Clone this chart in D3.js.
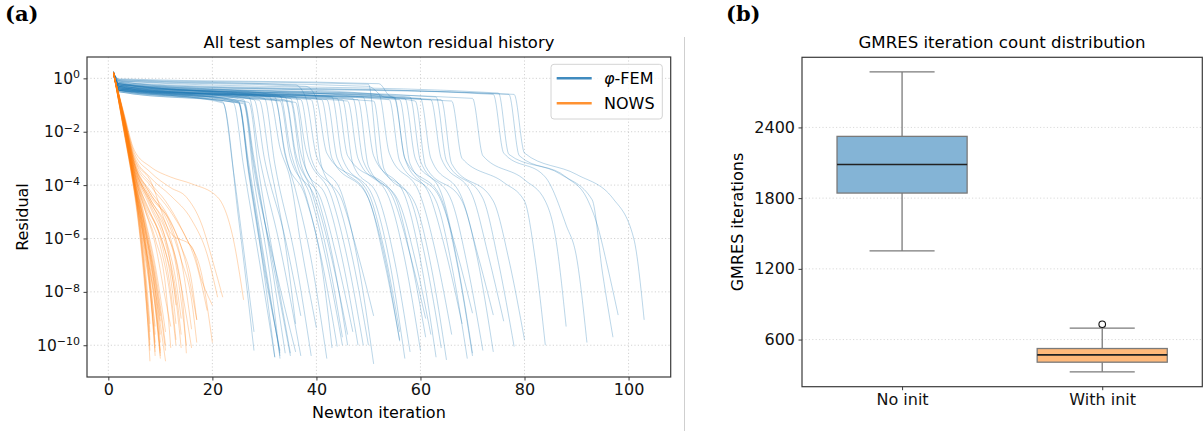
<!DOCTYPE html>
<html><head><meta charset="utf-8">
<script src="https://cdn.jsdelivr.net/npm/d3@7"></script>
<style>body{margin:0;background:#fff} svg{display:block}</style>
</head><body><svg id="c" width="1203" height="431" font-family="DejaVu Sans"></svg>
<script>
// ---------- data : panel (a) ----------
const xTicksA = [0, 20, 40, 60, 80, 100];
const yExpTicksA = [0, -2, -4, -6, -8, -10];
const seriesNames = ["\u03c6-FEM", "NOWS"];
// each row = one test sample: flat pairs [iteration, log10(residual), ...] read at key points
const phiFEM = [
 [1,0.22, 2,-0.45, 10,-0.6, 22,-0.92, 25,-5.2, 28,-10.2],
 [1,0.18, 2,-0.4, 22,-0.88, 24,-3.4, 26,-6.4, 28,-9.5],
 [1,0.25, 2,-0.35, 25,-0.9, 27,-3.5, 29,-6.0, 32,-10.45],
 [1,0.2, 2,-0.3, 25,-0.85, 27,-3.2, 30,-6.8, 33,-10.4],
 [1,0.15, 2,-0.5, 25,-0.92, 27,-3.6, 30,-7.2, 33,-10.2],
 [1,0.2, 2,-0.25, 26,-0.8, 28,-3.0, 31,-6.5, 34,-10.3],
 [1,0.22, 2,-0.4, 26,-0.85, 28,-3.2, 32,-7.3, 35,-10.4],
 [1,0.18, 2,-0.45, 26,-0.9, 28,-3.4, 32,-7.0, 36,-10.25],
 [1,0.2, 2,-0.2, 27,-0.7, 29,-2.9, 33,-6.3, 37,-10.4],
 [1,0.25, 2,-0.3, 28,-0.8, 30,-3.0, 34,-6.0, 37,-8.9],
 [1,0.2, 2,-0.15, 30,-0.75, 32,-3.2, 36,-6.8, 39,-10.4],
 [1,0.15, 2,-0.5, 26,-0.95, 28,-3.8, 31,-7.3, 33,-10.5],
 [1,0.2, 2,-0.35, 27,-0.9, 29,-3.6, 32,-7.0, 35,-10.3],
 [1,0.2, 2,-0.45, 24,-0.9, 26,-3.3, 29,-6.8, 32,-10.45],
 [1,0.24, 2,-0.3, 25,-0.88, 27,-3.4, 30,-7.0, 33,-10.3],
 [1,0.2, 2,-0.25, 29,-0.82, 31,-3.1, 34,-6.2, 36,-9.2],
 [1,0.2, 2,-0.2, 31,-0.7, 33,-2.6, 35,-3.8, 37,-6.2, 40,-9.35],
 [1,0.22, 2,-0.45, 32,-0.8, 34,-2.8, 36,-4.2, 39,-6.8, 42,-10.5],
 [1,0.18, 2,-0.1, 33,-0.65, 35,-2.7, 38,-4.4, 41,-6.8, 44,-10.05],
 [1,0.2, 2,-0.35, 34,-0.8, 36,-3.0, 39,-4.5, 42,-6.9, 45,-10.0],
 [1,0.25, 2,-0.3, 35,-0.75, 37,-2.8, 40,-4.3, 43,-6.6, 46,-10.0],
 [1,0.2, 2,-0.4, 35,-0.85, 37,-3.2, 41,-4.6, 44,-6.8, 47,-9.5],
 [1,0.15, 2,-0.2, 36,-0.7, 38,-2.7, 43,-4.5, 46,-6.8, 49,-10.0],
 [1,0.2, 2,-0.35, 37,-0.8, 39,-3.0, 44,-4.5, 47,-6.8, 50,-10.0],
 [1,0.22, 2,-0.05, 36,-0.25, 38,-0.75, 40,-2.9, 45,-4.4, 48,-6.9, 51,-10.7],
 [1,0.2, 2,-0.4, 39,-0.8, 41,-3.3, 45,-4.6, 48,-6.6, 51,-8.9],
 [1,0.18, 2,-0.25, 34,-0.7, 36,-2.8, 39,-4.2, 42,-6.5, 45,-9.7],
 [1,0.2, 2,-0.5, 33,-0.85, 35,-3.0, 40,-4.6, 43,-6.8, 46,-9.6],
 [1,0.2, 2,-0.45, 36,-0.9, 38,-3.4, 42,-4.5, 45,-6.8, 48,-10.0],
 [1,0.2, 2,-0.2, 32,-0.7, 34,-2.9, 38,-4.5, 41,-7.0, 43,-10.1],
 [1,0.2, 2,-0.35, 42,-0.8, 44,-3.0, 50,-4.5, 53,-6.6, 56,-9.85],
 [1,0.22, 2,-0.1, 38,-0.3, 40,-0.75, 42,-2.8, 50,-4.3, 53,-6.4, 56,-9.5],
 [1,0.2, 2,-0.25, 43,-0.7, 45,-3.0, 51,-4.5, 54,-6.8, 57,-10.5],
 [1,0.18, 2,-0.4, 45,-0.8, 47,-3.2, 52,-4.5, 55,-6.8, 58,-10.25],
 [1,0.2, 2,-0.45, 46,-0.85, 48,-3.0, 54,-4.5, 57,-6.8, 60,-10.2],
 [1,0.25, 2,-0.3, 47,-0.75, 49,-3.1, 55,-4.6, 58,-6.6, 61,-9.0],
 [1,0.2, 2,-0.35, 48,-0.8, 50,-3.3, 56,-4.7, 59,-6.8, 62,-9.6],
 [1,0.15, 2,-0.2, 49,-0.7, 51,-2.9, 57,-4.4, 60,-6.8, 63,-10.45],
 [1,0.2, 2,-0.05, 50,-0.22, 52,-3.2, 58,-4.5, 61,-6.8, 64,-10.1],
 [1,0.22, 2,-0.45, 51,-0.85, 53,-3.4, 59,-4.7, 62,-7.0, 65,-10.55],
 [1,0.2, 2,-0.15, 52,-0.6, 54,-2.8, 60,-4.4, 63,-6.6, 66,-9.6],
 [1,0.2, 2,-0.02, 52,-0.2, 54,-0.65, 55,-0.75, 57,-3.0, 62,-4.5, 65,-6.6, 68,-9.2],
 [1,0.18, 2,-0.4, 54,-0.8, 56,-3.1, 63,-4.6, 66,-7.0, 69,-10.5],
 [1,0.2, 2,-0.25, 55,-0.7, 57,-3.0, 64,-4.5, 67,-6.9, 70,-10.4],
 [1,0.25, 2,-0.35, 56,-0.8, 58,-3.2, 64,-4.6, 67,-6.5, 70,-8.8],
 [1,0.2, 2,-0.3, 60,-0.75, 62,-3.0, 68,-4.5, 71,-6.8, 74,-10.25],
 [1,0.2, 2,-0.08, 50,-0.3, 53,-0.7, 59,-0.85, 61,-3.3, 68,-4.6, 71,-6.6, 74,-8.87],
 [1,0.22, 2,-0.4, 62,-0.8, 64,-3.0, 70,-4.4, 73,-6.6, 76,-9.1],
 [1,0.2, 2,-0.25, 63,-0.7, 65,-3.1, 72,-4.5, 75,-6.9, 78,-10.05],
 [1,0.18, 2,-0.45, 64,-0.8, 66,-3.2, 74,-4.6, 77,-6.8, 80,-9.8],
 [1,0.2, 2,-0.3, 44,-0.75, 46,-2.9, 55,-4.4, 58,-6.6, 61,-9.7],
 [1,0.2, 2,-0.4, 41,-0.8, 43,-3.0, 50,-4.5, 53,-6.8, 56,-9.8],
 [1,0.25, 2,-0.3, 57,-0.75, 59,-3.0, 64,-4.3, 67,-6.8, 70,-10.3],
 [1,0.2, 2,-0.2, 58,-0.7, 60,-3.1, 66,-4.6, 69,-7.0, 72,-10.2],
 [1,0.2, 2,-0.45, 66,-0.85, 68,-3.0, 76,-3.9, 80,-4.6, 82,-6.7, 84,-10.0],
 [1,0.22, 2,-0.35, 70,-0.75, 72,-2.9, 80,-3.8, 84,-4.6, 86,-6.0, 88,-9.3],
 [1,0.2, 2,-0.15, 74,-0.6, 76,-2.8, 84,-3.7, 88,-5.5, 90,-6.7, 92,-9.9],
 [1,0.2, 2,-0.1, 75,-0.55, 77,-2.85, 87,-3.6, 93,-4.55, 95,-7.3, 97,-9.7],
 [1,0.18, 2,-0.2, 77,-0.6, 79,-2.9, 88,-3.7, 92,-4.5, 94,-5.5, 96,-7.1, 98,-8.87],
 [1,0.2, 2,-0.25, 78,-0.6, 80,-2.8, 90,-3.6, 97,-4.5, 101,-6.0, 103,-9.05]
];
const nows = [
 [1,0.25, 3,-2.0, 5,-4.2, 6,-5.6, 7,-7.5, 8,-10.6],
 [1,0.2, 3,-1.8, 5,-4.0, 6,-5.4, 7,-7.2, 8,-9.8],
 [1,0.15, 3,-1.9, 5,-4.1, 7,-6.6, 8,-8.0, 9,-10.4],
 [1,0.22, 3,-1.7, 5,-3.9, 7,-6.3, 8,-7.8, 9,-10.25],
 [1,0.2, 3,-1.8, 5,-4.0, 7,-6.0, 8,-7.4, 9,-9.6],
 [1,0.18, 3,-1.6, 5,-3.8, 7,-5.8, 9,-8.2, 10,-10.3],
 [1,0.24, 3,-1.9, 5,-4.2, 7,-6.2, 9,-8.5, 10,-10.4],
 [1,0.2, 3,-1.7, 5,-3.7, 7,-5.5, 9,-7.8, 10,-9.6],
 [1,0.2, 3,-1.8, 5,-3.9, 7,-5.7, 9,-7.6, 10,-9.1],
 [1,0.16, 3,-1.6, 5,-3.6, 7,-5.3, 9,-7.2, 11,-10.0],
 [1,0.22, 3,-1.7, 5,-3.8, 7,-5.5, 9,-7.4, 11,-10.2],
 [1,0.2, 3,-1.5, 5,-3.5, 7,-5.2, 9,-7.0, 11,-9.5],
 [1,0.25, 3,-2.0, 5,-4.3, 6,-5.8, 7,-7.8, 8,-10.2],
 [1,0.2, 3,-1.9, 5,-4.0, 6,-5.3, 7,-6.9, 8,-9.2],
 [1,0.18, 3,-1.8, 5,-4.0, 7,-6.4, 8,-7.9, 9,-9.9],
 [1,0.2, 3,-1.75, 5,-3.9, 7,-6.0, 8,-7.6, 9,-9.3],
 [1,0.22, 3,-1.85, 5,-4.0, 7,-6.1, 9,-8.6, 10,-10.5],
 [1,0.2, 3,-1.7, 5,-3.8, 7,-5.6, 9,-8.0, 10,-9.9],
 [1,0.15, 3,-1.6, 5,-3.7, 7,-5.4, 9,-7.5, 10,-8.9],
 [1,0.2, 3,-1.9, 5,-4.1, 6,-5.5, 7,-7.3, 8,-9.5],
 [1,0.22, 3,-1.65, 5,-3.7, 7,-5.6, 9,-7.9, 11,-10.6],
 [1,0.2, 3,-1.95, 5,-4.15, 6,-5.7, 7,-7.6, 8,-10.0],
 [1,0.21, 3,-1.8, 5,-3.95, 7,-6.2, 8,-7.7, 9,-10.1],
 [1,0.19, 3,-1.75, 5,-3.85, 7,-5.9, 9,-8.4, 10,-10.2],
 [1,0.2, 3,-1.6, 5,-3.6, 7,-4.9, 9,-6.0, 11,-7.8, 12,-10.1],
 [1,0.2, 3,-1.5, 5,-3.5, 7,-4.8, 10,-6.3, 12,-8.3, 13,-10.0],
 [1,0.18, 3,-1.6, 5,-3.4, 7,-4.6, 10,-5.9, 12,-7.5, 13,-9.2],
 [1,0.22, 3,-1.55, 5,-3.5, 8,-5.0, 11,-6.5, 13,-8.3, 14,-10.1],
 [1,0.2, 3,-1.5, 5,-3.3, 8,-4.7, 11,-6.0, 13,-7.6, 14,-9.0],
 [1,0.2, 3,-1.4, 5,-3.2, 8,-4.6, 11,-5.7, 14,-7.8, 15,-10.3],
 [1,0.15, 3,-1.5, 5,-3.3, 8,-4.5, 12,-6.0, 14,-7.8, 16,-10.1],
 [1,0.2, 3,-1.4, 5,-3.1, 8,-4.3, 12,-5.5, 14,-6.8, 16,-9.4],
 [1,0.22, 3,-1.5, 5,-3.2, 8,-4.4, 12,-5.4, 15,-7.0, 17,-9.05],
 [1,0.2, 3,-1.6, 5,-3.4, 8,-4.6, 10,-5.4, 12,-7.0, 13,-8.5],
 [1,0.2, 3,-1.7, 5,-3.6, 7,-4.9, 9,-6.2, 11,-8.3, 12,-9.3],
 [1,0.18, 3,-1.6, 5,-3.5, 7,-4.7, 10,-6.0, 12,-8.0, 13,-9.8],
 [1,0.2, 3,-1.55, 5,-3.4, 8,-4.8, 11,-6.2, 13,-8.0, 14,-9.6],
 [1,0.22, 3,-1.5, 5,-3.3, 8,-4.5, 11,-5.6, 13,-7.0, 15,-10.0],
 [1,0.2, 3,-1.3, 5,-2.7, 8,-3.3, 12,-3.7, 16,-3.95, 21,-4.45, 24,-6.0, 26,-8.3],
 [1,0.2, 3,-1.35, 5,-2.8, 8,-3.5, 12,-4.1, 15,-4.45, 18,-5.5, 20,-6.8, 22,-8.2],
 [1,0.18, 3,-1.4, 5,-2.9, 8,-3.7, 12,-4.4, 16,-5.3, 19,-6.6, 21,-8.2],
 [1,0.22, 3,-1.4, 5,-3.0, 8,-3.9, 11,-4.6, 14,-5.6, 17,-7.0, 19,-8.7],
 [1,0.2, 3,-1.45, 5,-3.1, 8,-4.0, 12,-5.0, 15,-6.0, 18,-7.4, 20,-9.9],
 [1,0.2, 3,-1.5, 5,-3.2, 8,-4.2, 11,-5.0, 14,-6.3, 16,-7.6, 17,-9.05],
 [1,0.15, 3,-1.5, 5,-3.2, 8,-4.3, 11,-5.2, 14,-6.8, 16,-8.3, 17,-9.9],
 [1,0.2, 3,-1.45, 5,-3.0, 8,-3.8, 12,-5.8, 16,-6.3, 18,-7.6, 20,-8.5]
];
// ---------- data : panel (b) ----------
const boxCategories = ["No init", "With init"];
const whiskerLow  = [1352, 326];
const quartile1   = [1843, 408];
const medians     = [2086, 470];
const quartile3   = [2324, 524];
const whiskerHigh = [2871, 697];
const outliers    = [[], [730]];
const yTicksB = [600, 1200, 1800, 2400];

const svg = d3.select("#c");
const blue = "#1f77b4", orange = "#ff7f0e", spine = "#3a3a3a";
const styleTicks = (g, size) => { g.select(".domain").remove(); g.selectAll("line").attr("stroke", spine);
  g.selectAll("text").style("font-family", "DejaVu Sans").style("font-size", size).attr("fill", "#111"); };

// ---------- panel (a) ----------
const xA = d3.scaleLinear().domain([-4.1, 108.1]).range([87, 670.7]);
const yA = d3.scaleLog().domain([Math.pow(10, 0.8), Math.pow(10, -11.19)]).range([57, 377]);
const gA = svg.append("g");

gA.append("g").selectAll("line").data(xTicksA).join("line")
  .attr("x1", d => xA(d)).attr("x2", d => xA(d)).attr("y1", 57).attr("y2", 377)
  .attr("stroke", "#c8c8c8").attr("stroke-width", 0.8).attr("stroke-dasharray", "1.2,2.2");
gA.append("g").selectAll("line").data(yExpTicksA).join("line")
  .attr("y1", d => yA(Math.pow(10, d))).attr("y2", d => yA(Math.pow(10, d))).attr("x1", 87).attr("x2", 670.7)
  .attr("stroke", "#c8c8c8").attr("stroke-width", 0.8).attr("stroke-dasharray", "1.2,2.2");

const toPts = row => { const p = []; for (let i = 0; i < row.length; i += 2) p.push([row[i], Math.pow(10, row[i + 1])]); return p; };
const lineA = d3.line().x(d => xA(d[0])).y(d => yA(d[1])).curve(d3.curveMonotoneX);

gA.append("g").selectAll("path").data(phiFEM).join("path")
  .attr("d", r => lineA(toPts(r))).attr("fill", "none")
  .attr("stroke", blue).attr("stroke-opacity", 0.3).attr("stroke-width", 1);
gA.append("g").selectAll("path").data(nows).join("path")
  .attr("d", r => lineA(toPts(r))).attr("fill", "none")
  .attr("stroke", orange).attr("stroke-opacity", 0.3).attr("stroke-width", 1);

const axA = gA.append("g").attr("transform", "translate(0,377)")
  .call(d3.axisBottom(xA).tickValues(xTicksA).tickSize(3.5).tickPadding(3.5).tickSizeOuter(0));
styleTicks(axA, "16px");
const ayA = gA.append("g").attr("transform", "translate(87,0)")
  .call(d3.axisLeft(yA).tickValues(yExpTicksA.map(e => Math.pow(10, e))).tickSize(3.5).tickPadding(3.5).tickSizeOuter(0));
styleTicks(ayA, "15.5px");
ayA.selectAll(".tick text").each(function (d) {
  const e = Math.round(Math.log10(d));
  const t = d3.select(this).text(null);
  t.append("tspan").text("10");
  t.append("tspan").attr("dy", "-0.5em").style("font-size", "11px").text(e < 0 ? "\u2212" + (-e) : String(e));
});
gA.append("rect").attr("x", 87).attr("y", 57).attr("width", 670.7 - 87).attr("height", 320)
  .attr("fill", "none").attr("stroke", spine).attr("stroke-width", 1.2);

gA.append("text").attr("x", 378.9).attr("y", 418).attr("text-anchor", "middle").style("font-size", "16px").text("Newton iteration");
gA.append("text").attr("transform", "translate(28,217) rotate(-90)").attr("text-anchor", "middle").style("font-size", "16px").text("Residual");
gA.append("text").attr("x", 378.9).attr("y", 48).attr("text-anchor", "middle").style("font-size", "16.4px").text("All test samples of Newton residual history");

const lg = gA.append("g");
lg.append("rect").attr("x", 551).attr("y", 64.3).attr("width", 111.3).attr("height", 54.7).attr("rx", 3)
  .attr("fill", "#fff").attr("fill-opacity", 0.8).attr("stroke", "#d4d4d4").attr("stroke-width", 1);
[blue, orange].forEach((c, i) => {
  const yy = 78.3 + i * 25;
  lg.append("line").attr("x1", 556.7).attr("x2", 591.7).attr("y1", yy).attr("y2", yy)
    .attr("stroke", c).attr("stroke-opacity", 0.85).attr("stroke-width", 2.5);
  const t = lg.append("text").attr("x", 604).attr("y", yy + 6).style("font-size", "16px");
  if (i === 0) { t.append("tspan").style("font-style", "italic").text(seriesNames[0].charAt(0)); t.append("tspan").text(seriesNames[0].slice(1)); }
  else t.text(seriesNames[1]);
});

svg.append("text").attr("x", 5).attr("y", 20.5).style("font-family", "'DejaVu Serif', serif").style("font-weight", "bold").style("font-size", "21px").text("(a)");
svg.append("text").attr("x", 726).attr("y", 20.5).style("font-family", "'DejaVu Serif', serif").style("font-weight", "bold").style("font-size", "21px").text("(b)");
svg.append("line").attr("x1", 684.5).attr("x2", 684.5).attr("y1", 37).attr("y2", 431).attr("stroke", "#cfcfcf").attr("stroke-width", 1);

// ---------- panel (b) ----------
const xB = d3.scaleLinear().domain([0.5, 2.5]).range([802, 1202.3]);
const yB = d3.scaleLinear().domain([200, 2995]).range([386.7, 57.3]);
const gB = svg.append("g");
gB.append("g").selectAll("line").data(yTicksB).join("line")
  .attr("x1", 802).attr("x2", 1202.3).attr("y1", d => yB(d)).attr("y2", d => yB(d))
  .attr("stroke", "#d0d0d0").attr("stroke-width", 0.8).attr("stroke-dasharray", "1.2,2.2");

const boxW = 0.65, capW = 0.325;
const boxFill = ["#84b4d6", "#ffb97a"];
boxCategories.forEach((c, i) => {
  const pos = i + 1;
  const g = gB.append("g");
  g.append("line").attr("x1", xB(pos)).attr("x2", xB(pos)).attr("y1", yB(whiskerLow[i])).attr("y2", yB(quartile1[i])).attr("stroke", "#7a7a7a").attr("stroke-width", 1.3);
  g.append("line").attr("x1", xB(pos)).attr("x2", xB(pos)).attr("y1", yB(quartile3[i])).attr("y2", yB(whiskerHigh[i])).attr("stroke", "#7a7a7a").attr("stroke-width", 1.3);
  [whiskerLow[i], whiskerHigh[i]].forEach(v => g.append("line").attr("x1", xB(pos - capW / 2)).attr("x2", xB(pos + capW / 2)).attr("y1", yB(v)).attr("y2", yB(v)).attr("stroke", "#7a7a7a").attr("stroke-width", 1.3));
  g.append("rect").attr("x", xB(pos - boxW / 2)).attr("width", xB(pos + boxW / 2) - xB(pos - boxW / 2))
    .attr("y", yB(quartile3[i])).attr("height", yB(quartile1[i]) - yB(quartile3[i]))
    .attr("fill", boxFill[i]).attr("stroke", "#7a7a7a").attr("stroke-width", 1.3);
  g.append("line").attr("x1", xB(pos - boxW / 2)).attr("x2", xB(pos + boxW / 2)).attr("y1", yB(medians[i])).attr("y2", yB(medians[i])).attr("stroke", "#222").attr("stroke-width", 1.6);
  outliers[i].forEach(v => g.append("circle").attr("cx", xB(pos)).attr("cy", yB(v)).attr("r", 3.3).attr("fill", "#fff").attr("stroke", "#111").attr("stroke-width", 1.1));
});

const axB = gB.append("g").attr("transform", "translate(0,386.7)")
  .call(d3.axisBottom(xB).tickValues([1, 2]).tickFormat((d, i) => boxCategories[i]).tickSize(3.5).tickPadding(3.5).tickSizeOuter(0));
styleTicks(axB, "16px");
const ayB = gB.append("g").attr("transform", "translate(802,0)")
  .call(d3.axisLeft(yB).tickValues(yTicksB).tickFormat(d3.format("d")).tickSize(3.5).tickPadding(3.5).tickSizeOuter(0));
styleTicks(ayB, "16px");
gB.append("rect").attr("x", 802).attr("y", 57.3).attr("width", 1202.3 - 802).attr("height", 386.7 - 57.3)
  .attr("fill", "none").attr("stroke", spine).attr("stroke-width", 1.2);
gB.append("text").attr("x", 1002).attr("y", 48).attr("text-anchor", "middle").style("font-size", "16.6px").text("GMRES iteration count distribution");
gB.append("text").attr("transform", "translate(743,222) rotate(-90)").attr("text-anchor", "middle").style("font-size", "16px").text("GMRES iterations");
</script></body></html>
